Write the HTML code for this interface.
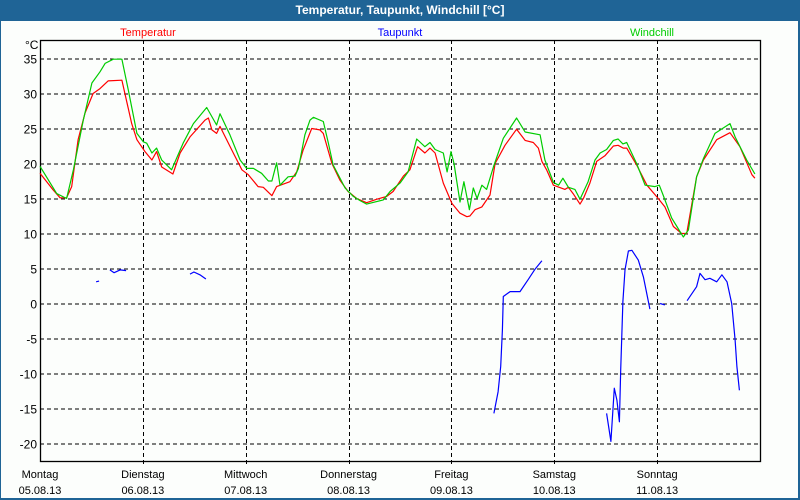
<!DOCTYPE html>
<html><head><meta charset="utf-8"><style>
body{margin:0;width:800px;height:500px;overflow:hidden;background:#1f6496;font-family:"Liberation Sans",sans-serif}
#title{position:absolute;left:0;top:0;width:800px;height:20px;line-height:20px;text-align:center;color:#fff;font-weight:bold;font-size:12px}
#panel{position:absolute;left:1px;top:21px;width:797px;height:477px;background:#fcfefc}
svg{position:absolute;left:0;top:0}
</style></head><body>
<div id="title">Temperatur, Taupunkt, Windchill [°C]</div>
<div id="panel"></div>
<svg id="chart" width="800" height="500"></svg>
<script>
const yTicks=[35,30,25,20,15,10,5,0,-5,-10,-15,-20];
const dayNames=["Montag","Dienstag","Mittwoch","Donnerstag","Freitag","Samstag","Sonntag"];
const dayDates=["05.08.13","06.08.13","07.08.13","08.08.13","09.08.13","10.08.13","11.08.13"];
const tempHours=[0,3.1,4.7,6.2,7.4,8.9,10.5,12.4,14,15.9,19.1,21.4,22.6,24.5,26.1,27.2,28.4,31,32.7,35,38.5,39.3,40.1,41.2,42,45.1,47.1,48.6,50.9,52.1,54.1,55.2,58.3,59.9,61.4,63.4,65.3,66.1,68.1,70,71.9,73.9,76.2,78.6,80.9,82.4,84.8,86.3,88.1,89.8,91,92.2,94.1,96.1,98,99.6,100.3,101.5,103.1,105,106.2,108.5,111.2,113.2,115.1,116.3,117.1,118.2,119.8,122.5,123.3,124.4,126,126.8,128.3,129.9,131.8,133.8,134.9,136.1,136.9,139.2,141.6,144,145.8,147.8,149.7,150.9,153.2,154.8,157.9,161,163.3,166.1,166.8];
const tempValues=[18.6,16.2,15.1,15.1,16.7,23.4,27.2,30,30.7,31.8,31.9,25.7,23.4,21.7,20.5,21.7,19.5,18.5,21.5,23.8,26.2,26.5,24.8,24.3,25.3,21.5,19.1,18.4,16.7,16.6,15.4,16.7,17.4,18.8,21.9,25,24.8,24.3,20,17.6,16,15,14.4,14.9,15.3,16,18.2,19.1,22.4,21.5,22.2,21.5,17.2,14.3,12.9,12.4,12.5,13.4,13.8,15.5,20,22.6,24.9,23.3,23,22.2,20.3,19.1,16.9,16.3,16.6,15.7,14.2,15,17.2,20.3,21.1,22.5,22.6,22.2,22.2,19.8,16.9,15.2,13.8,11,10,10,18.1,20.5,23.4,24.4,22.4,18.4,17.9];
const windHours=[0,3.9,6.2,7.8,10.1,12.1,14,15.2,17.1,19.1,20.6,22.6,24.1,24.9,26.1,27.2,28.4,30.7,33.4,35.8,38.9,41.2,42,44.3,46.7,48.2,49.8,51.7,53.3,54.1,55.2,56,57.9,59.5,60.3,61.8,63,63.8,66.1,67.3,68.4,71.2,73.1,74.7,76.2,80.1,81.7,84,85.9,87.9,89.8,91,92.2,94.1,95,95.9,96.6,98,98.9,100.2,101.1,102,103.1,104.2,105.8,108.1,111.2,113.2,116.7,117.8,119.8,121,122,123.3,124.8,126,127.9,129.5,130.7,132.2,133.8,134.9,136,136.9,139.2,141.2,143.5,144.5,145.4,147.4,148.6,150.1,151.3,153.2,154.8,157.5,161,162.2,164.9,166.8];
const windValues=[19.6,15.7,15,19.1,26.2,31.5,33.1,34.3,34.9,34.9,30.5,24.3,23.1,22.9,21.5,22.2,20.5,19.1,22.9,25.7,28,25.5,27.1,24.1,20.5,19.3,19.3,18.6,17.5,17.5,20.1,16.9,18.1,18.2,19.3,24.1,26.2,26.6,26,22.9,19.8,16.5,15.3,14.7,14.2,14.8,16,17.2,18.8,23.5,22.4,23,22,21.5,18.8,21.7,20,14.5,17.4,13.4,16.5,15,16.9,16.3,19.5,23.6,26.5,24.5,24.1,20.5,17.3,16.9,17.9,16.6,16.3,14.9,17.4,20.5,21.5,22,23.3,23.5,22.8,23,20,16.9,16.7,16.9,15.5,12.2,11,9.5,10.5,18.1,20.7,24.3,25.7,23.8,20.5,18.5];
const dewHours=[13.1,13.8,null,16.3,17.3,18.7,20.1,null,35,35.9,37.3,38.7,null,105.9,106.9,107.5,107.9,108.1,109.7,112,113.9,115.5,117.1,null,132.2,133.2,134,134.6,135.2,135.5,136,136.5,137.3,138.1,139.6,140.8,142.3,null,144.7,145.8,null,151,153.2,154,155.2,156.3,157.9,159.1,160.3,161.4,162.2,162.6,163.2];
const dewValues=[3.1,3.2,null,4.8,4.4,4.8,4.7,null,4.2,4.5,4.1,3.5,null,-15.7,-12.6,-9,-3.8,1,1.7,1.7,3.4,4.9,6.1,null,-15.7,-19.7,-12.1,-13.8,-16.9,-9.5,0.3,4.8,7.5,7.6,6.2,3.8,-0.8,null,0,-0.2,null,0.4,2.4,4.3,3.4,3.6,3.1,4.1,3.1,0,-5.2,-9,-12.4];

const L=40,R=760,T=40,B=461,H0=168;
const X=h=>L+h*(R-L)/H0;
const Y=v=>303.5-7*v;
const svg=document.getElementById('chart');
const NS="http://www.w3.org/2000/svg";
function mk(tag,attrs){const e=document.createElementNS(NS,tag);for(const k in attrs)e.setAttribute(k,attrs[k]);svg.appendChild(e);return e;}

yTicks.forEach(v=>{
  const g=mk('line',{x1:L,x2:R,y1:Y(v)+0.5,y2:Y(v)+0.5,stroke:'#000','stroke-dasharray':'4,3'});
  
  
  const t=mk('text',{x:37,y:Y(v)+5,'text-anchor':'end','font-size':12,fill:'#000'});
  t.textContent=v;
  
  
});
dayNames.forEach((d,i)=>{
  const x=X(i*24);
  if(i>0){const g=mk('line',{x1:Math.round(x)+0.5,x2:Math.round(x)+0.5,y1:T,y2:B+3,stroke:'#000','stroke-dasharray':'4,3'});
  
  }
  const t1=mk('text',{x:x,y:478,'text-anchor':'middle','font-size':11,fill:'#000'});
  t1.textContent=d;
  
  
  const t2=mk('text',{x:x,y:494,'text-anchor':'middle','font-size':11,fill:'#000'});
  t2.textContent=dayDates[i];
  
  
});
const frame=mk('rect',{x:L+0.5,y:T+0.5,width:R-L,height:B-T,fill:'none',stroke:'#000','stroke-width':1.3});


const unit=mk('text',{x:25,y:49,'font-size':12,fill:'#000'});unit.textContent='°C';



function series(hs,vs,color,name){
  let d='',pen=false;
  hs.forEach((h,i)=>{
    if(h===null||vs[i]===null){pen=false;return;}
    d+=(pen?'L':'M')+X(h).toFixed(1)+' '+Y(vs[i]).toFixed(1)+' ';pen=true;
  });
  const p=mk('path',{d:d,fill:'none',stroke:color,'stroke-width':1.2,'stroke-linejoin':'round'});
  
  
}
series(tempHours,tempValues,'#ff0000','temperatur-line');
series(windHours,windValues,'#00cc00','windchill-line');
series(dewHours,dewValues,'#0000ff','taupunkt-line');

[['Temperatur','#ff0000',148,'legend-temperatur'],['Taupunkt','#0000ff',400,'legend-taupunkt'],['Windchill','#00cc00',652,'legend-windchill']].forEach(l=>{
  const t=mk('text',{x:l[2],y:36,'text-anchor':'middle','font-size':11,fill:l[1]});
  t.textContent=l[0];
  
  
});
</script>
</body></html>
